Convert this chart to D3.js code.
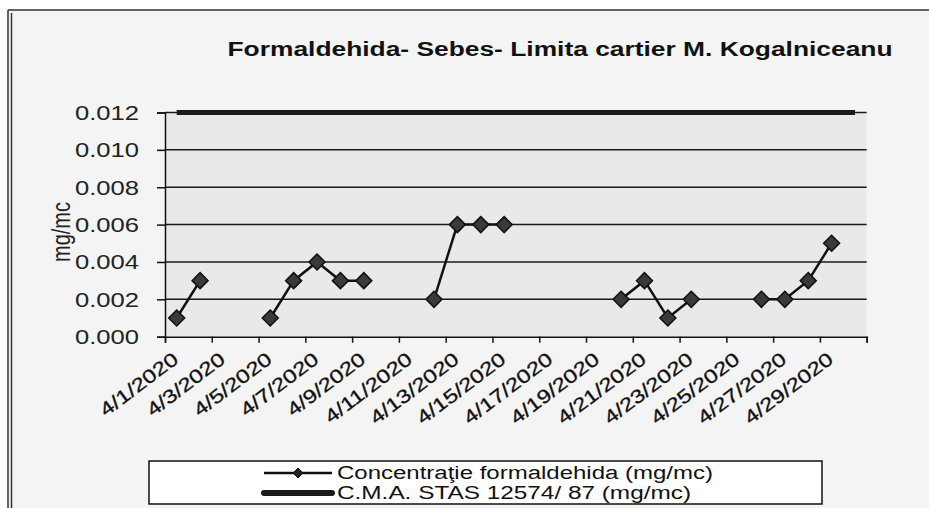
<!DOCTYPE html>
<html>
<head>
<meta charset="utf-8">
<script src="https://cdn.jsdelivr.net/npm/d3@7"></script>
<style>
  body { margin: 0; background: #ffffff; }
  svg { display: block; font-family: "Liberation Sans", Arial, sans-serif; }
</style>
</head>
<body>
<svg id="chart" width="929" height="508"></svg>
<script>
// categories (one per day) and the two series
var dates = ["4/1/2020", "4/2/2020", "4/3/2020", "4/4/2020", "4/5/2020", "4/6/2020",
  "4/7/2020", "4/8/2020", "4/9/2020", "4/10/2020", "4/11/2020", "4/12/2020",
  "4/13/2020", "4/14/2020", "4/15/2020", "4/16/2020", "4/17/2020", "4/18/2020",
  "4/19/2020", "4/20/2020", "4/21/2020", "4/22/2020", "4/23/2020", "4/24/2020",
  "4/25/2020", "4/26/2020", "4/27/2020", "4/28/2020", "4/29/2020", "4/30/2020"];

var concentratie = [0.001, 0.003, null, null, 0.001, 0.003,
  0.004, 0.003, 0.003, null, null, 0.002,
  0.006, 0.006, 0.006, null, null, null,
  null, 0.002, 0.003, 0.001, 0.002, null,
  null, 0.002, 0.002, 0.003, 0.005, null];

var cma = [0.012, 0.012, 0.012, 0.012, 0.012, 0.012,
  0.012, 0.012, 0.012, 0.012, 0.012, 0.012,
  0.012, 0.012, 0.012, 0.012, 0.012, 0.012,
  0.012, 0.012, 0.012, 0.012, 0.012, 0.012,
  0.012, 0.012, 0.012, 0.012, 0.012, 0.012];

var yTicks = [0, 0.002, 0.004, 0.006, 0.008, 0.010, 0.012];
var xTickLabels = ["4/1/2020", "4/3/2020", "4/5/2020", "4/7/2020", "4/9/2020",
  "4/11/2020", "4/13/2020", "4/15/2020", "4/17/2020", "4/19/2020", "4/21/2020",
  "4/23/2020", "4/25/2020", "4/27/2020", "4/29/2020"];

var titleText = "Formaldehida- Sebes- Limita cartier M. Kogalniceanu";
var legendNames = ["Concentra\u0163ie formaldehida (mg/mc)", "C.M.A. STAS 12574/ 87 (mg/mc)"];

// the scanned original is stretched sideways, text gets the same stretch
var sx = 1.28;

var svg = d3.select("#chart");
var plotLeft = 165, plotRight = 866.7, plotTop = 112.5, plotBottom = 336.7;

// page background + frame
svg.append("rect").attr("x", 8).attr("y", 10).attr("width", 921).attr("height", 498)
  .attr("fill", "#f4f4f4");
svg.append("line").attr("x1", 8).attr("x2", 929).attr("y1", 10).attr("y2", 10)
  .attr("stroke", "#333").attr("stroke-width", 1.5);
svg.append("line").attr("x1", 8).attr("x2", 8).attr("y1", 10).attr("y2", 508)
  .attr("stroke", "#333").attr("stroke-width", 1.5);
svg.append("line").attr("x1", 11.5).attr("x2", 11.5).attr("y1", 13).attr("y2", 508)
  .attr("stroke", "#333").attr("stroke-width", 1.5);

var x = d3.scaleBand().domain(dates).range([plotLeft, plotRight]).padding(0);
var xEdge = d3.scaleLinear().domain([0, dates.length]).range([plotLeft, plotRight]);
var y = d3.scaleLinear().domain([0, 0.012]).range([plotBottom, plotTop]);

// plot area
svg.append("rect").attr("x", plotLeft).attr("y", plotTop).attr("width", plotRight - plotLeft)
  .attr("height", plotBottom - plotTop).attr("fill", "#e9e9e9");

// title
svg.append("text")
  .attr("transform", "translate(560,56) scale(" + sx + ",1)")
  .attr("text-anchor", "middle")
  .attr("font-size", "20px")
  .attr("font-weight", "bold")
  .attr("fill", "#111")
  .attr("textLength", 665 / sx)
  .attr("lengthAdjust", "spacingAndGlyphs")
  .text(titleText);

// gridlines
svg.append("g").selectAll("line")
  .data(yTicks.slice(1))
  .enter().append("line")
  .attr("x1", plotLeft).attr("x2", plotRight)
  .attr("y1", function(d) { return y(d); })
  .attr("y2", function(d) { return y(d); })
  .attr("stroke", "#1a1a1a").attr("stroke-width", 1.5);

// y axis
var yAxis = svg.append("g")
  .attr("transform", "translate(" + plotLeft + ",0)")
  .call(d3.axisLeft(y).tickValues(yTicks).tickSize(8).tickFormat(d3.format(".3f")));
yAxis.select(".domain").attr("stroke", "#111").attr("stroke-width", 1.5);
yAxis.selectAll(".tick line").attr("stroke", "#111").attr("stroke-width", 1.5);
yAxis.selectAll(".tick text")
  .attr("x", null).attr("dy", null)
  .attr("transform", "translate(-26,7) scale(" + sx + ",1)")
  .attr("text-anchor", "end")
  .attr("font-size", "20px")
  .attr("font-family", "Liberation Sans, Arial, sans-serif")
  .attr("fill", "#222");

// y axis title
svg.append("text")
  .attr("transform", "translate(70,232) scale(" + sx + ",1) rotate(-90)")
  .attr("text-anchor", "middle")
  .attr("font-size", "20px")
  .attr("fill", "#222")
  .text("mg/mc");

// x axis: ticks every 2 categories, on the category edges
var xAxis = svg.append("g")
  .attr("transform", "translate(0," + plotBottom + ")")
  .call(d3.axisBottom(xEdge).tickValues(d3.range(0, dates.length + 1, 2)).tickSize(6).tickFormat(""));
xAxis.select(".domain").attr("stroke", "#111").attr("stroke-width", 1.5);
xAxis.selectAll(".tick line").attr("stroke", "#111").attr("stroke-width", 1.5);

svg.append("g").selectAll("text")
  .data(xTickLabels)
  .enter().append("text")
  .attr("transform", function(d) {
    return "translate(" + (x(d) + x.bandwidth() / 2 + 3) + "," + (plotBottom + 25) + ") rotate(-37) scale(1.25,1)";
  })
  .attr("text-anchor", "end")
  .attr("font-size", "19px")
  .attr("fill", "#111")
  .attr("stroke", "#111")
  .attr("stroke-width", 0.3)
  .text(function(d) { return d; });

// limit line
var lineCma = d3.line()
  .x(function(d, i) { return x(dates[i]) + x.bandwidth() / 2; })
  .y(function(d) { return y(d); });
svg.append("path")
  .datum(cma)
  .attr("d", lineCma)
  .attr("fill", "none")
  .attr("stroke", "#1a1a1a")
  .attr("stroke-width", 5);

// measured series, with gaps
var lineConc = d3.line()
  .defined(function(d) { return d != null; })
  .x(function(d, i) { return x(dates[i]) + x.bandwidth() / 2; })
  .y(function(d) { return y(d); });
svg.append("path")
  .datum(concentratie)
  .attr("d", lineConc)
  .attr("fill", "none")
  .attr("stroke", "#111")
  .attr("stroke-width", 2.5);

function diamond(cx, cy, h) {
  return "M" + cx + "," + (cy - h) + "L" + (cx + h) + "," + cy + "L" + cx + "," + (cy + h) + "L" + (cx - h) + "," + cy + "Z";
}

var pts = dates.map(function(d, i) { return { date: d, value: concentratie[i] }; })
  .filter(function(d) { return d.value != null; });
svg.append("g").selectAll("path")
  .data(pts)
  .enter().append("path")
  .attr("d", function(d) { return diamond(x(d.date) + x.bandwidth() / 2, y(d.value), 8); })
  .attr("fill", "#3a3a3a")
  .attr("stroke", "#111")
  .attr("stroke-width", 1.5);

// legend
var legend = svg.append("g");
legend.append("rect")
  .attr("x", 149).attr("y", 461).attr("width", 673).attr("height", 43)
  .attr("fill", "#ffffff").attr("stroke", "#111").attr("stroke-width", 1.5);

legend.append("line").attr("x1", 264).attr("x2", 332).attr("y1", 473).attr("y2", 473)
  .attr("stroke", "#111").attr("stroke-width", 2.5);
legend.append("path").attr("d", diamond(298, 473, 5)).attr("fill", "#222").attr("stroke", "#111");
legend.append("line").attr("x1", 264).attr("x2", 332).attr("y1", 493).attr("y2", 493)
  .attr("stroke", "#1a1a1a").attr("stroke-width", 6).attr("stroke-linecap", "round");

legend.selectAll("text.lg")
  .data(legendNames)
  .enter().append("text")
  .attr("class", "lg")
  .attr("transform", function(d, i) { return "translate(337," + (479 + i * 20) + ") scale(" + sx + ",1)"; })
  .attr("font-size", "18px")
  .attr("fill", "#111")
  .attr("textLength", function(d, i) { return (i == 0 ? 376 : 354) / sx; })
  .attr("lengthAdjust", "spacingAndGlyphs")
  .text(function(d) { return d; });
</script>
</body>
</html>
